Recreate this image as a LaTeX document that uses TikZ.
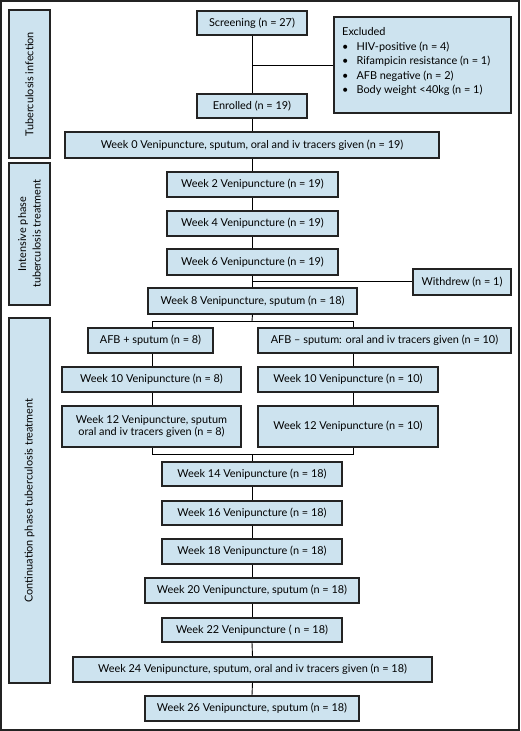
\documentclass[tikz,border=0pt]{standalone}
\usepackage{fontspec}
\setmainfont{Lato}
\definecolor{boxfill}{RGB}{205,227,239}
\definecolor{boxline}{RGB}{35,35,35}
\newcommand{\fsz}{\fontsize{10.9}{12.5}\selectfont}
\begin{document}
\begin{tikzpicture}[x=1pt,y=-1pt,
  box/.style={draw=boxline,fill=boxfill,line width=1.2pt,inner sep=0pt,align=center,font=\fsz},
  side/.style={draw=boxline,fill=boxfill,line width=1.2pt,inner sep=0pt,align=center,font=\fsz},
  sidetext/.style={rotate=90,font=\fontsize{10.9}{14.5}\selectfont,align=center,inner sep=0pt},
  conn/.style={draw=black,line width=0.9pt}]
\useasboundingbox (0,0) rectangle (520,731);
\draw[line width=1.5pt,draw=boxline,fill=white] (1,1) rectangle (519,730);
% side labels
\node[side,minimum width=41pt,minimum height=148pt] (s1) at (29.5,84) {};
\node[sidetext] (t1) at (s1.center) {Tuberculosis infection};
\node[side,minimum width=41pt,minimum height=142pt] (s2) at (29.5,234) {};
\node[sidetext] (t2) at (s2.center) {Intensive phase\\tuberculosis treatment};
\node[side,minimum width=41pt,minimum height=365pt] (s3) at (29.5,500.5) {};
\node[sidetext] (t3) at (s3.center) {Continuation phase tuberculosis treatment};
% main boxes
\node[box,minimum width=110pt,minimum height=24pt] (screen) at (252,23) {Screening (n = 27)};
\node[box,minimum width=177pt,minimum height=96pt] (excl) at (422.5,65) {};
\node[anchor=north west,inner sep=0pt,font=\fontsize{10.9}{14.5}\selectfont,align=left] (exclt) at (342,27.5) {Excluded\\
\textbullet\hspace{8pt}HIV-positive (n = 4)\\
\textbullet\hspace{8pt}Rifampicin resistance (n = 1)\\
\textbullet\hspace{8pt}AFB negative (n = 2)\\
\textbullet\hspace{8pt}Body weight <40kg (n = 1)};
\node[box,minimum width=110pt,minimum height=24pt] (enrol) at (252,106) {Enrolled (n = 19)};
\node[box,minimum width=374pt,minimum height=26pt] (w0) at (252,145) {Week 0 Venipuncture, sputum, oral and iv tracers given (n = 19)};
\node[box,minimum width=171pt,minimum height=25pt] (w2) at (252.5,184.5) {Week 2 Venipuncture (n = 19)};
\node[box,minimum width=171pt,minimum height=25pt] (w4) at (252.5,223.5) {Week 4 Venipuncture (n = 19)};
\node[box,minimum width=171pt,minimum height=26pt] (w6) at (252.5,262) {Week 6 Venipuncture (n = 19)};
\node[box,minimum width=98pt,minimum height=26pt] (withdrew) at (462,282) {Withdrew (n = 1)};
\node[box,minimum width=209pt,minimum height=26pt] (w8) at (252.5,301) {Week 8 Venipuncture, sputum (n = 18)};
\node[box,minimum width=125pt,minimum height=25pt] (afbp) at (150.5,340.5) {AFB + sputum (n = 8)};
\node[box,minimum width=253pt,minimum height=25pt] (afbm) at (384.5,340.5) {AFB – sputum: oral and iv tracers given (n = 10)};
\node[box,minimum width=179pt,minimum height=25pt] (w10l) at (151.5,379.5) {Week 10 Venipuncture (n = 8)};
\node[box,minimum width=180pt,minimum height=25pt] (w10r) at (348,379.5) {Week 10 Venipuncture (n = 10)};
\node[box,minimum width=179pt,minimum height=41pt] (w12l) at (151.5,426.5) {Week 12 Venipuncture, sputum\\oral and iv tracers given (n = 8)};
\node[box,minimum width=180pt,minimum height=41pt] (w12r) at (348,426.5) {Week 12 Venipuncture (n = 10)};
\node[box,minimum width=180pt,minimum height=24pt] (w14) at (252,474) {Week 14 Venipuncture (n = 18)};
\node[box,minimum width=180pt,minimum height=24pt] (w16) at (252,513) {Week 16 Venipuncture (n = 18)};
\node[box,minimum width=180pt,minimum height=25pt] (w18) at (252,551.5) {Week 18 Venipuncture (n = 18)};
\node[box,minimum width=214pt,minimum height=25pt] (w20) at (252,590.5) {Week 20 Venipuncture, sputum (n = 18)};
\node[box,minimum width=180pt,minimum height=24pt] (w22) at (252,630) {Week 22 Venipuncture ( n = 18)};
\node[box,minimum width=359pt,minimum height=25pt] (w24) at (252.5,669.5) {Week 24 Venipuncture, sputum, oral and iv tracers given (n = 18)};
\node[box,minimum width=214pt,minimum height=25pt] (w26) at (252,708.5) {Week 26 Venipuncture, sputum (n = 18)};
% junction coordinates
\coordinate (jex) at (252,65);
\coordinate (jwd) at (252,281);
\coordinate (jbr) at (252,321);
\coordinate (L) at (152,321);
\coordinate (R) at (353,321);
\coordinate (Lm) at (152,454);
\coordinate (Rm) at (353,454);
\coordinate (jm) at (252,454);
% connectors
\draw[conn] (screen.south) -- (enrol.north);
\draw[conn] (jex) -- (jex -| excl.west);
\draw[conn] (enrol.south) -- (w0.north);
\draw[conn] (w0.south) -- (w0.south |- w2.north);
\draw[conn] (w2.south) -- (w4.north);
\draw[conn] (w4.south) -- (w6.north);
\draw[conn] (w6.south) -- (w8.north);
\draw[conn] (jwd) -- (jwd -| withdrew.west);
\draw[conn] (w8.south) -- (jbr);
\draw[conn] (L) -- (R);
\draw[conn] (L) -- (L |- afbp.north);
\draw[conn] (R) -- (R |- afbm.north);
\draw[conn] (L |- afbp.south) -- (L |- w10l.north);
\draw[conn] (R |- afbm.south) -- (R |- w10r.north);
\draw[conn] (L |- w10l.south) -- (L |- w12l.north);
\draw[conn] (R |- w10r.south) -- (R |- w12r.north);
\draw[conn] (L |- w12l.south) -- (Lm) -- (Rm) -- (R |- w12r.south);
\draw[conn] (jm) -- (w14.north);
\draw[conn] (w14.south) -- (w16.north);
\draw[conn] (w16.south) -- (w18.north);
\draw[conn] (w18.south) -- (w20.north);
\draw[conn] (w20.south) -- (w22.north);
\draw[conn] (w22.south) -- (w24.north);
\draw[conn] (w24.south) -- (w26.north);
\end{tikzpicture}
\end{document}
